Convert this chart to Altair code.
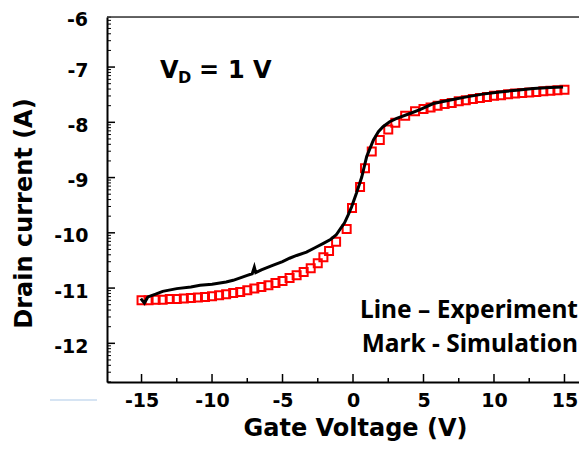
import math
import altair as alt
import pandas as pd

# Experiment (black line): gate voltage (V), log10 drain current
exp_v = [-15.05, -14.8, -14.55, -14.0, -13.5, -12.5, -11.5, -10.85, -10.0, -9.0, -8.5,
         -7.5, -7.15, -7.0, -6.9, -6.5, -5.7, -5.0, -4.5, -4.0, -3.3, -2.7, -2.1, -1.6,
         -1.2, -0.9, -0.6, -0.35, -0.1, 0.26, 0.62, 0.97, 1.45, 1.8, 2.13, 2.6, 3.1,
         4.04, 4.75, 5.7, 7.0, 8.06, 9.2, 10.4, 11.6, 12.8, 14.0, 14.9]
exp_i = [-11.19, -11.27, -11.16, -11.11, -11.06, -11.01, -10.98, -10.95, -10.93, -10.89,
         -10.86, -10.77, -10.74, -10.62, -10.72, -10.67, -10.59, -10.52, -10.46, -10.41,
         -10.35, -10.27, -10.19, -10.12, -10.04, -9.93, -9.82, -9.68, -9.53, -9.27,
         -8.99, -8.62, -8.32, -8.17, -8.08, -7.99, -7.93, -7.84, -7.77, -7.66, -7.59,
         -7.54, -7.49, -7.45, -7.42, -7.39, -7.37, -7.36]

# Simulation (red squares)
sim_v = [-15.0, -14.5, -14.0, -13.5, -13.0, -12.5, -12.0, -11.5, -11.0, -10.5, -10.0,
         -9.5, -9.0, -8.5, -8.0, -7.5, -7.0, -6.5, -6.0, -5.5, -5.0, -4.5, -4.0, -3.5,
         -3.0, -2.5, -2.1, -1.7, -1.2, -0.45, -0.07, 0.5, 0.85, 1.33, 1.9, 2.5, 3.0,
         3.7, 4.4, 5.0, 5.5, 6.0, 6.5, 7.0, 7.5, 8.0, 8.5, 9.0, 9.5, 10.0, 10.5, 11.0,
         11.5, 12.0, 12.5, 13.0, 13.5, 14.0, 14.5, 15.0]
sim_i = [-11.22, -11.22, -11.21, -11.21, -11.20, -11.20, -11.19, -11.18, -11.17, -11.16,
         -11.15, -11.13, -11.11, -11.09, -11.07, -11.04, -11.01, -10.98, -10.95, -10.91,
         -10.87, -10.82, -10.77, -10.71, -10.64, -10.55, -10.44, -10.33, -10.16, -9.93,
         -9.55, -9.17, -8.83, -8.53, -8.32, -8.13, -8.01, -7.88, -7.80, -7.76, -7.73,
         -7.70, -7.67, -7.65, -7.62, -7.60, -7.58, -7.56, -7.54, -7.52, -7.51, -7.49,
         -7.48, -7.47, -7.46, -7.45, -7.44, -7.43, -7.42, -7.41]

x_major = [-15, -10, -5, 0, 5, 10, 15]
x_minor = [-12.5, -7.5, -2.5, 2.5, 7.5, 12.5]
y_major = [-12, -11, -10, -9, -8, -7]

W, H = 472, 365
XDOM = [-17.45, 16.03]
YDOM = [-12.70, -6.094]
y_minor = [n + math.log10(k) for n in range(-13, -6) for k in range(2, 10)
           if YDOM[0] <= n + math.log10(k) <= YDOM[1]]

FONT = "DejaVu Sans"
xs = alt.Scale(domain=XDOM, nice=False, zero=False)
ys = alt.Scale(domain=YDOM, nice=False, zero=False)
LABEL_EXPR = "datum.value < 0 ? '-' + abs(datum.value) : '' + datum.value"

exp_df = pd.DataFrame({"v": exp_v, "i": exp_i, "o": list(range(len(exp_v)))})
sim_df = pd.DataFrame({"v": sim_v, "i": sim_i})

x_axis = alt.Axis(values=x_major, title="Gate Voltage (V)", ticks=False, grid=False,
                  domainColor="black", domainWidth=2, labelFont=FONT, labelFontSize=19,
                  labelFontWeight="bold", labelColor="black", labelPadding=9,
                  labelExpr=LABEL_EXPR, titleFont=FONT, titleFontSize=24,
                  titleFontWeight="bold", titleColor="black", titlePadding=6, titleX=248)
y_axis = alt.Axis(values=y_major, title="Drain current (A)", ticks=False, grid=False,
                  domainColor="black", domainWidth=2, labelFont=FONT, labelFontSize=19,
                  labelFontWeight="bold", labelColor="black", labelPadding=19,
                  labelOffset=3, labelExpr=LABEL_EXPR, titleFont=FONT, titleFontSize=24,
                  titleFontWeight="bold", titleColor="black", titlePadding=17, titleY=196)

X = alt.X("v:Q", scale=xs, axis=x_axis)
Y = alt.Y("i:Q", scale=ys, axis=y_axis)

sim = alt.Chart(sim_df).mark_point(shape="square", filled=False, size=64,
                                   color="#ff0000", strokeWidth=2, opacity=1).encode(x=X, y=Y)

line = alt.Chart(exp_df).mark_line(color="black", strokeWidth=3).encode(
    x=X, y=Y, order="o:Q")

ymaj = alt.Chart(pd.DataFrame({"i": y_major})).mark_rule(color="black", strokeWidth=1.5).encode(
    y=Y, x=alt.value(0), x2=alt.value(8))
ymin = alt.Chart(pd.DataFrame({"i": y_minor})).mark_rule(color="black", strokeWidth=1).encode(
    y=Y, x=alt.value(0), x2=alt.value(4))
xmaj = alt.Chart(pd.DataFrame({"v": x_major})).mark_rule(color="black", strokeWidth=1.5).encode(
    x=X, y=alt.value(H), y2=alt.value(H - 8))
xmin = alt.Chart(pd.DataFrame({"v": x_minor})).mark_rule(color="black", strokeWidth=1.5).encode(
    x=X, y=alt.value(H), y2=alt.value(H - 4))

top = alt.Chart(pd.DataFrame({"a": [0]})).mark_rule(color="#333333", strokeWidth=1.5).encode(
    x=alt.value(0), x2=alt.value(W), y=alt.value(0))

# faint light-blue stroke seen at the lower left of the original image
smudge = alt.Chart(pd.DataFrame({"a": [0]})).mark_rule(color="#c9dbef", strokeWidth=1.5).encode(
    x=alt.value(-57), x2=alt.value(-10), y=alt.value(383))

top_label = alt.Chart(pd.DataFrame({"t": ["-6"]})).mark_text(
    font=FONT, fontSize=19, fontWeight="bold", color="black", align="right",
    baseline="middle").encode(text="t:N", x=alt.value(-19), y=alt.value(3))


def txt(s, x, y, size, font=FONT, weight="bold", align="left"):
    return alt.Chart(pd.DataFrame({"t": [s]})).mark_text(
        font=font, fontSize=size, fontWeight=weight, color="black", align=align,
        baseline="alphabetic").encode(text="t:N", x=alt.value(x), y=alt.value(y))


vd = [
    txt("V", 53, 61, 24),
    txt("D", 71, 66, 16),
    txt("=", 92, 61, 24),
    txt("1 V", 121, 61, 24),
]
legend = [
    txt("Line – Experiment", 471, 301, 24.5, font="Noto Sans", align="right"),
    txt("Mark - Simulation", 471, 335, 24.5, font="Noto Sans", align="right"),
]

chart = alt.layer(sim, line, ymaj, ymin, xmaj, xmin, top, smudge, top_label, *vd, *legend).properties(
    width=W, height=H,
    autosize=alt.AutoSizeParams(type="none"),
    padding={"left": 99, "top": 9, "right": 0, "bottom": 60},
).configure_view(stroke=None).configure(background="white")

chart.save("out.html", embed_options={"renderer": "svg", "actions": False})
